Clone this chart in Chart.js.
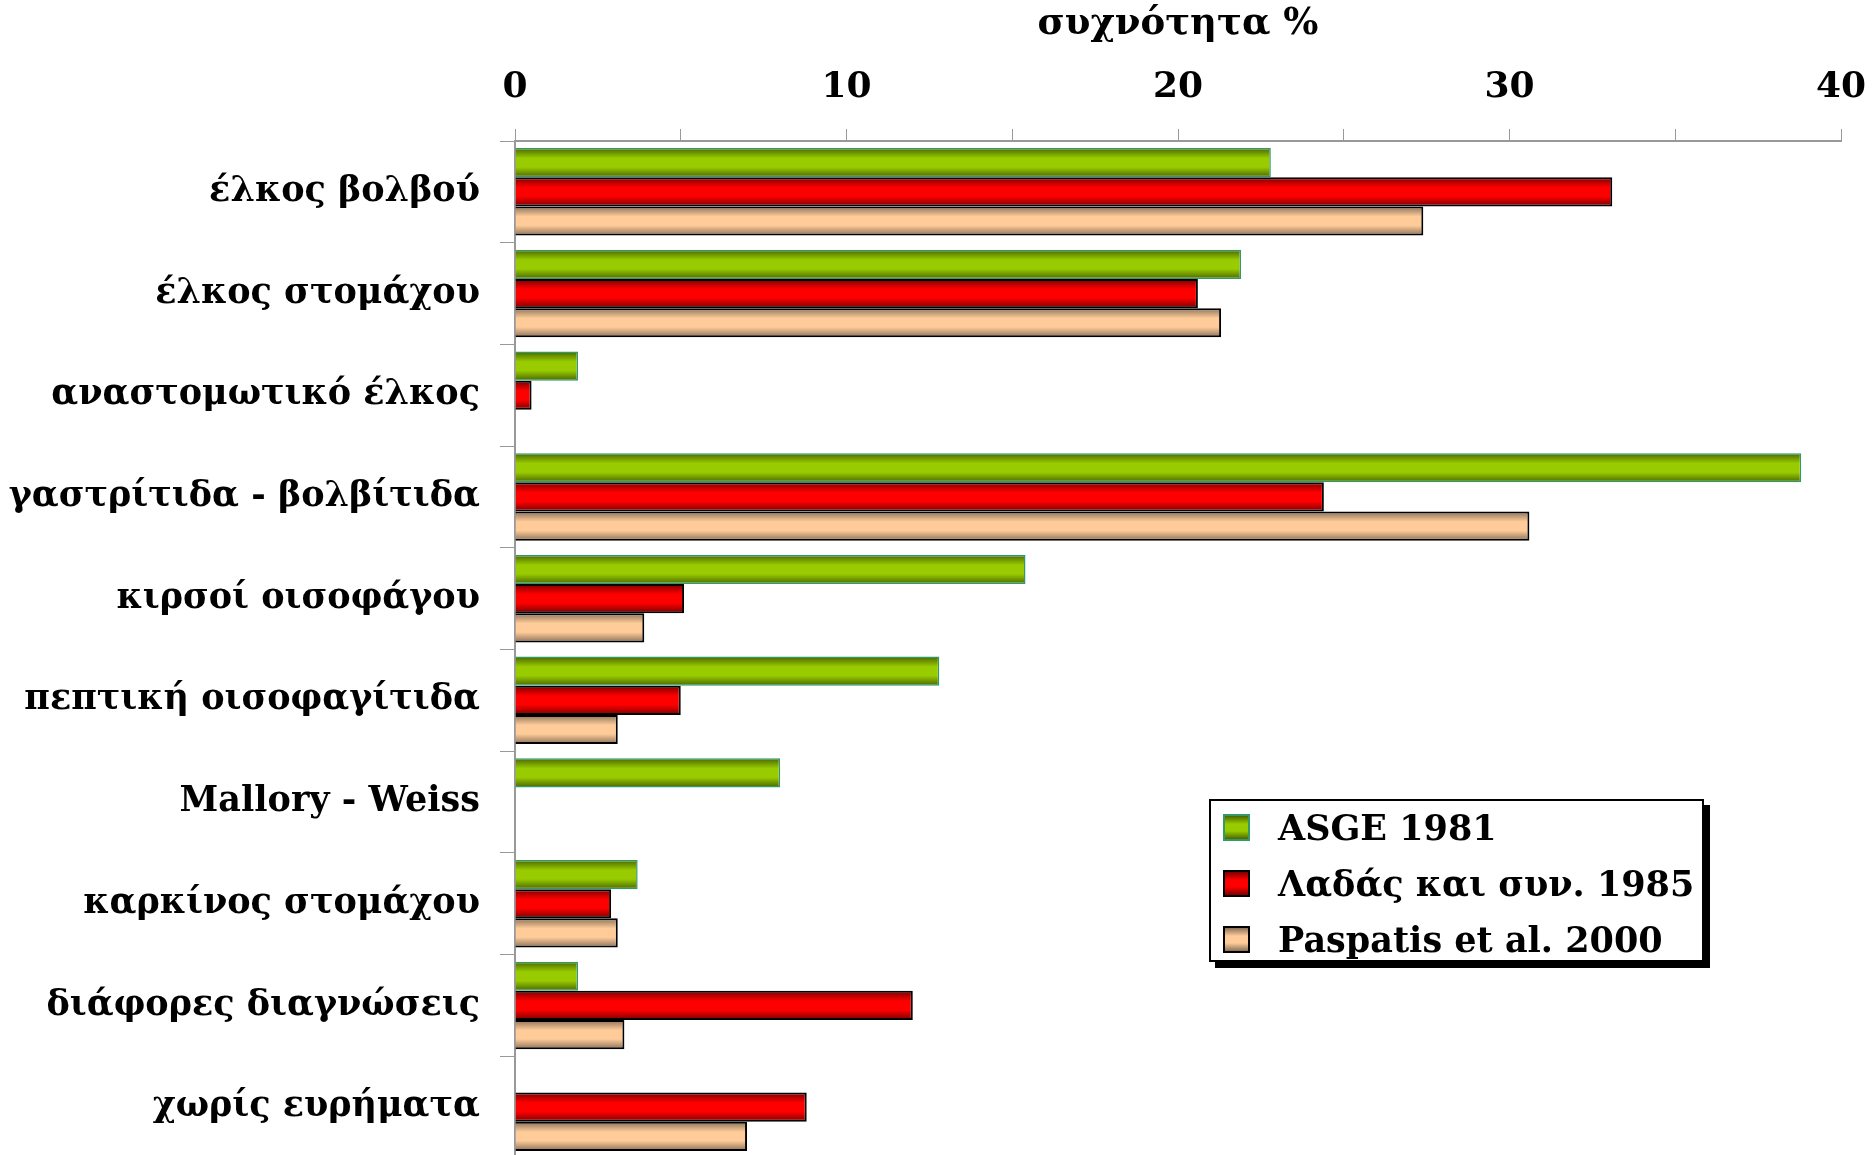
<!DOCTYPE html>
<html>
<head>
<meta charset="utf-8">
<script src="https://cdn.jsdelivr.net/npm/chart.js@4.4.1/dist/chart.umd.min.js"></script>
<style>
  html, body { margin: 0; padding: 0; background: #fff; overflow: hidden; }
  #wrap { position: relative; width: 1872px; height: 1155px; overflow: hidden; }
  #legend {
    position: absolute; left: 1209px; top: 799px; width: 491px; height: 159px;
    border: 2px solid #000; background: #fff; box-shadow: 6px 6px 0 #000;
    font-family: "DejaVu Serif", "Liberation Serif", serif; font-weight: bold; font-size: 35px;
  }
  #legend .row { position: absolute; left: 12px; height: 50px; line-height: 50px; white-space: nowrap; }
  #legend .sw { display: inline-block; width: 23px; height: 23px; border: 2px solid #000; vertical-align: middle; margin-right: 28px; position: relative; top: -3px; }
</style>
</head>
<body>
<div id="wrap">
  <canvas id="grafico" width="1872" height="1160"></canvas>
  <div id="legend"></div>
</div>
<script>
// categorias (eje vertical)
var categorias = [
  'έλκος βολβού',
  'έλκος στομάχου',
  'αναστομωτικό έλκος',
  'γαστρίτιδα - βολβίτιδα',
  'κιρσοί οισοφάγου',
  'πεπτική οισοφαγίτιδα',
  'Mallory - Weiss',
  'καρκίνος στομάχου',
  'διάφορες διαγνώσεις',
  'χωρίς ευρήματα'
];

var series = ['ASGE 1981', 'Λαδάς και συν. 1985', 'Paspatis et al. 2000'];

// valores en %
var asge1981   = [22.8, 21.9, 1.9, 38.8, 15.4, 12.8, 8.0, 3.7, 1.9, null];
var ladas1985  = [33.1, 20.6, 0.5, 24.4, 5.1, 5.0, null, 2.9, 12.0, 8.8];
var paspatis2000 = [27.4, 21.3, null, 30.6, 3.9, 3.1, null, 3.1, 3.3, 7.0];

var ejeTicks = [0, 10, 20, 30, 40];

// colores: borde, oscuro (bordes del degradado), claro (centro)
var colores = [
  { borde: '#339966', osc: '#4a6600', cla: '#99cc00' },
  { borde: '#000000', osc: '#7a0000', cla: '#ff0000' },
  { borde: '#000000', osc: '#8a7058', cla: '#ffcc99' }
];

var CAT_PCT = 0.86;

function relleno(i) {
	return function (ctx) {
		var c = colores[i];
		var chart = ctx.chart;
		var area = chart.chartArea;
		if (!area || ctx.type !== 'data' || !chart.scales.y) return c.cla;
		var catH = (area.bottom - area.top) / categorias.length;
		var barH = catH * CAT_PCT / 3;
		var centro = chart.scales.y.getPixelForValue(ctx.dataIndex) + (i - 1) * barH;
		var g = chart.ctx.createLinearGradient(0, centro - barH / 2, 0, centro + barH / 2);
		g.addColorStop(0, c.osc);
		g.addColorStop(0.35, c.cla);
		g.addColorStop(0.65, c.cla);
		g.addColorStop(1, c.osc);
		return g;
	};
}

var fuente = "'DejaVu Serif', 'Liberation Serif', serif";

var datos = [asge1981, ladas1985, paspatis2000];

window.Grafico = new Chart(document.getElementById('grafico').getContext('2d'), {
	type: 'bar',
	data: {
		labels: categorias,
		datasets: datos.map(function (d, i) {
			return {
				label: series[i],
				data: d,
				backgroundColor: relleno(i),
				borderColor: colores[i].borde,
				borderWidth: i == 0 ? 1.5 : 2,
				borderSkipped: 'left',
				categoryPercentage: CAT_PCT,
				barPercentage: 1.0
			};
		})
	},
	options: {
		indexAxis: 'y',
		responsive: false,
		animation: false,
		devicePixelRatio: 1,
		layout: { padding: { top: 0, right: 31, bottom: 2, left: 0 } },
		plugins: { legend: { display: false }, tooltip: { enabled: false } },
		scales: {
			x: {
				position: 'top',
				min: 0, max: 40,
				ticks: {
					stepSize: 5,
					color: '#000',
					padding: 20,
					maxRotation: 0,
					font: { family: fuente, weight: 'bold', size: 36 },
					callback: function (v) { return ejeTicks.indexOf(v) >= 0 ? String(v) : ''; }
				},
				grid: { drawOnChartArea: false, drawTicks: true, tickLength: 12, color: '#999' },
				border: { color: '#999', width: 2 },
				title: {
					display: true, text: 'συχνότητα %', color: '#000',
					font: { family: fuente, weight: 'bold', size: 37 },
					padding: { top: 2, bottom: 0 }
				},
				afterFit: function (s) { s.height = 141; s.paddingLeft = 0; s.paddingRight = 0; }
			},
			y: {
				ticks: {
					color: '#000',
					padding: 20,
					font: { family: fuente, weight: 'bold', size: 35 }
				},
				grid: { drawOnChartArea: false, drawTicks: true, tickLength: 15, offset: true, color: '#999' },
				border: { color: '#999', width: 2 },
				afterFit: function (s) { s.width = 515; s.paddingTop = 0; s.paddingBottom = 0; }
			}
		}
	}
});

// leyenda
var leyenda = document.getElementById('legend');
series.forEach(function (nombre, i) {
	var c = colores[i];
	var fila = document.createElement('div');
	fila.className = 'row';
	fila.style.top = (2 + i * 56) + 'px';
	var sw = document.createElement('span');
	sw.className = 'sw';
	sw.style.borderColor = c.borde;
	sw.style.background = 'linear-gradient(' + c.osc + ',' + c.cla + ' 35%,' + c.cla + ' 65%,' + c.osc + ')';
	fila.appendChild(sw);
	fila.appendChild(document.createTextNode(nombre));
	leyenda.appendChild(fila);
});
</script>
</body>
</html>
